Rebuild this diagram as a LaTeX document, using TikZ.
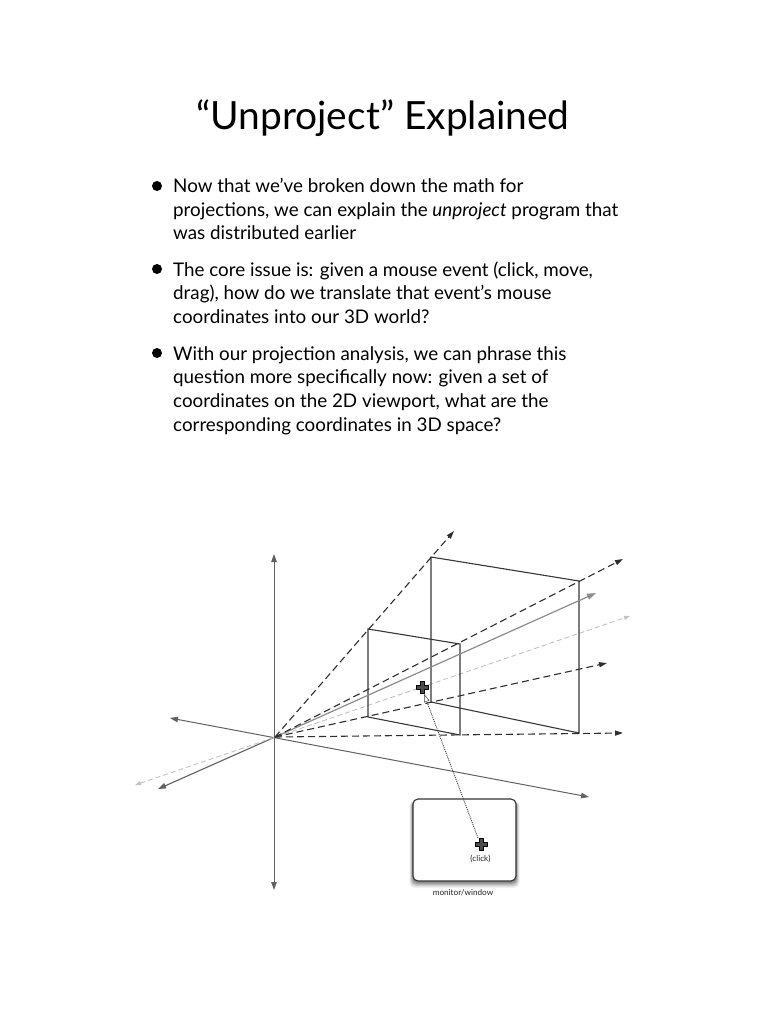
\documentclass[tikz,border=0pt]{standalone}
\usepackage{fontspec}
\setmainfont{Lato}
\usetikzlibrary{arrows.meta}
\definecolor{axisgray}{gray}{0.38}
\definecolor{lightray}{gray}{0.76}
\definecolor{solidray}{gray}{0.55}
\definecolor{dashray}{gray}{0.18}
\definecolor{framegray}{gray}{0.22}
\tikzset{
  x=1pt,y=-1pt,
  titletext/.style={anchor=base,font=\fontsize{38.9}{40}\selectfont,text=black,inner sep=0},
  bodytext/.style={anchor=base west,align=left,font=\fontsize{18.8}{23.6}\selectfont,text=black,inner sep=0,text depth=0pt},
  dotbullet/.style={circle,fill=black,minimum size=10pt,inner sep=0},
  axis/.style={draw=axisgray,line width=1pt,{Triangle[length=8pt,width=5.5pt]}-{Triangle[length=8pt,width=5.5pt]}},
  lightdash/.style={draw=lightray,line width=0.9pt,dash pattern=on 5pt off 3pt,{Triangle[length=6pt,width=4pt]}-{Triangle[length=6pt,width=4pt]}},
  ray/.style={draw=dashray,line width=1.1pt,dash pattern=on 7pt off 4pt,-{Triangle[length=8pt,width=5pt]}},
  solidarrow/.style={draw=solidray,line width=1.2pt,-{Triangle[length=9pt,width=6pt]}},
  frameline/.style={draw=framegray,line width=1.1pt},
  plusmark/.style={draw=black,fill=black!70,line width=1pt,line join=round},
  smalltext/.style={font=\fontsize{8.2}{9}\selectfont,text=black!85,inner sep=0},
  pointer/.style={draw=black!75,line width=0.9pt,dash pattern=on 1pt off 1pt,-{Triangle[open,fill=white,length=8pt,width=5.5pt,line width=0.5pt]}},
}
\newcommand{\plusat}[1]{\draw[plusmark,shift={(#1)}] (-2,-6)--(2,-6)--(2,-2)--(6,-2)--(6,2)--(2,2)--(2,6)--(-2,6)--(-2,2)--(-6,2)--(-6,-2)--(-2,-2)--cycle;}
\begin{document}
\begin{tikzpicture}
\useasboundingbox (0,0) rectangle (768,1024);
\fill[white] (0,0) rectangle (768,1024);
% text
\node[titletext] (title) at (383,130) {“Unproject” Explained};
\node[dotbullet] (b1) at (157,186) {};
\node[dotbullet] (b2) at (157,269) {};
\node[dotbullet] (b3) at (157,353) {};
\node[bodytext] (p1) at (173,240) {Now that we’ve broken down the math for\\projections, we can explain the \textit{unproject} program that\\was distributed earlier};
\node[bodytext] (p2) at (173,323.5) {The core issue is: given a mouse event (click, move,\\drag), how do we translate that event’s mouse\\coordinates into our 3D world?};
\node[bodytext] (p3) at (173,431) {With our projection analysis, we can phrase this\\question more specifically now: given a set of\\coordinates on the 2D viewport, what are the\\corresponding coordinates in 3D space?};
% coordinates
\coordinate (O) at (275,737);
\coordinate (axT) at (274,554);
\coordinate (axB) at (274,890);
\coordinate (axL) at (170,718);
\coordinate (axR) at (589,797);
\coordinate (axD) at (158,789);
\coordinate (axU) at (596,593);
\coordinate (liL) at (135,785);
\coordinate (liR) at (630,616);
\coordinate (r1) at (454,531);
\coordinate (r2) at (623,559);
\coordinate (r3) at (607,663);
\coordinate (r4) at (623,733);
\coordinate (sTL) at (368,629);
\coordinate (sTR) at (460,644);
\coordinate (sBR) at (460,735);
\coordinate (sBL) at (368,717);
\coordinate (bTL) at (431,557);
\coordinate (bTR) at (579,581);
\coordinate (bBR) at (579,733);
\coordinate (bBL) at (431,702);
\coordinate (c1) at (422,687);
\coordinate (c2) at (481,844);
\coordinate (c1p) at (424,694);
% axes
\draw[axis] (axT) -- (axB);
\draw[axis] (axL) -- (axR);
\draw[draw=axisgray,line width=1.1pt,-{Triangle[length=8pt,width=5.5pt]}] (O) -- (axD);
\draw[lightdash] (liL) -- (liR);
% frames
\draw[frameline] (bTL) -- (bTR) -- (bBR) -- (bBL) -- cycle;
\draw[frameline] (sTL) -- (sTR) -- (sBR) -- (sBL) -- cycle;
% rays
\draw[solidarrow] (O) -- (axU);
\draw[ray] (O) -- (r1);
\draw[ray] (O) -- (r2);
\draw[ray] (O) -- (r3);
\draw[ray] (O) -- (r4);
% monitor with shadow
\foreach \s/\o in {6/0.05,5/0.06,4/0.08,3/0.1,2/0.12,1/0.14}{
  \fill[black,opacity=\o,rounded corners=5pt] (413-\s*0.6,799+2) rectangle (516+\s*0.6,881+\s+1);
}
\node[draw=black!80,fill=white,line width=1.1pt,rounded corners=5pt,minimum width=103pt,minimum height=82pt,inner sep=0] (mon) at (464.5,840) {};
\plusat{c2}
\plusat{c1}
\draw[pointer] (c2) ++(-3,-6) -- (c1p);
\node[smalltext] (click) at (480.5,859) {(click)};
\node[smalltext] (mlabel) at (463,892.5) {monitor/window};
\end{tikzpicture}
\end{document}
